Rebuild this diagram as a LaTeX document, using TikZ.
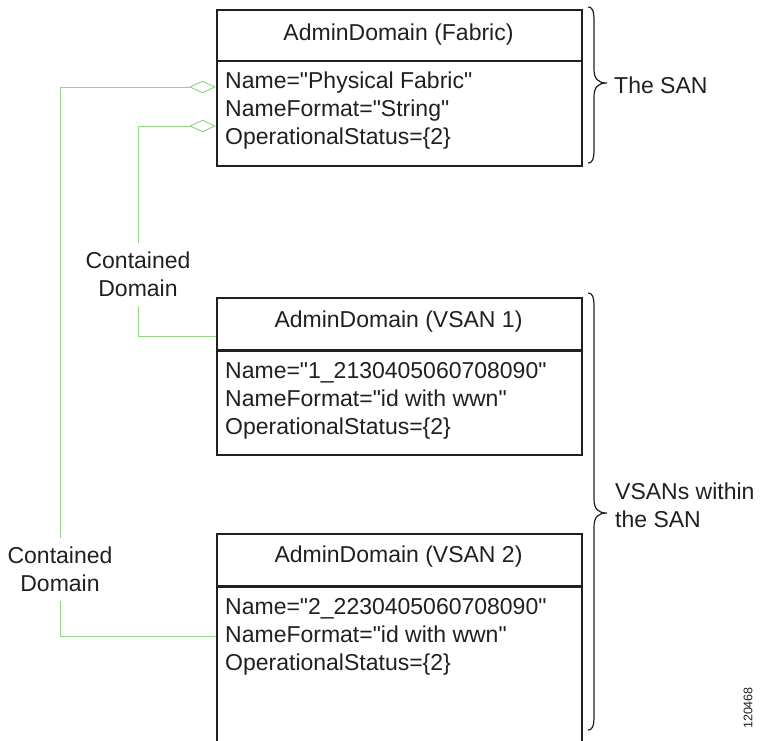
\documentclass[tikz,border=0pt]{standalone}
\usepackage{fontspec}
\setmainfont{Liberation Sans}[Ligatures=TeXOff]
\usetikzlibrary{arrows.meta}
\definecolor{assocgreen}{RGB}{150,212,140}
\definecolor{ink}{RGB}{35,31,32}
% straight double quote
\newcommand{\sq}{\symbol{34}}
\begin{document}
\begin{tikzpicture}[x=1pt,y=-1pt,
  every node/.style={text=ink, font=\fontsize{23}{28}\selectfont},
  classbox/.style={draw=ink, line width=1.6pt, minimum width=365pt, inner sep=0pt, anchor=north west},
  divider/.style={draw=ink, line width=1.6pt},
  thickdivider/.style={draw=ink, line width=3pt},
  title/.style={anchor=base, inner sep=0pt},
  attr/.style={anchor=base west, inner sep=0pt},
  note/.style={align=center, inner xsep=0pt, inner ysep=9pt, anchor=north},
  assoc/.style={draw=assocgreen, line width=1pt},
  agg/.style={assoc, {Diamond[open, length=27pt, width=12.6pt]}-},
  bracestroke/.style={draw=ink, line width=1.2pt}
]
\useasboundingbox (0,0) rectangle (763,740);
\clip (0,0) rectangle (763,740);

% class boxes
\node[classbox, minimum height=156pt] (fab) at (216,9) {};
\node[classbox, minimum height=157pt] (vs1) at (216,297) {};
\node[classbox, minimum height=240pt] (vs2) at (216,533) {};

% compartment dividers
\draw[divider] (216,61) -- (581,61);
\draw[thickdivider] (216,350) -- (581,350);
\draw[thickdivider] (216,586) -- (581,586);

% class names
\node[title] (fabT) at (398.5,40) {AdminDomain (Fabric)};
\node[title] (vs1T) at (398.5,327) {AdminDomain (VSAN 1)};
\node[title] (vs2T) at (398.5,562) {AdminDomain (VSAN 2)};

% attributes
\node[attr] (fab1) at (225,88) {Name=\sq Physical Fabric\sq};
\node[attr] (fab2) at (225,116) {NameFormat=\sq String\sq};
\node[attr] (fab3) at (225,144) {OperationalStatus=\{2\}};

\node[attr] (vs11) at (225,378) {Name=\sq 1\_2130405060708090\sq};
\node[attr] (vs12) at (225,406) {NameFormat=\sq id with wwn\sq};
\node[attr] (vs13) at (225,434) {OperationalStatus=\{2\}};

\node[attr] (vs21) at (225,614) {Name=\sq 2\_2230405060708090\sq};
\node[attr] (vs22) at (225,642) {NameFormat=\sq id with wwn\sq};
\node[attr] (vs23) at (225,670) {OperationalStatus=\{2\}};

% association labels
\node[note] (c1) at (138,243) {Contained\\Domain};
\node[note] (c2) at (60,538) {Contained\\Domain};

% association end points on the boxes
\coordinate (fabA) at (216,87);
\coordinate (fabB) at (216,126);
\coordinate (vs1A) at (216,336);
\coordinate (vs2A) at (216,636);

% aggregation connectors
\draw[agg] (fabB) -| (c1.north);
\draw[assoc] (c1.south) |- (vs1A);
\draw[agg] (fabA) -| (c2.north);
\draw[assoc] (c2.south) |- (vs2A);

% braces
\draw[bracestroke] (588,7) .. controls (592,7) and (594,10) .. (594,21)
  -- (594,69) .. controls (594,79) and (598,83) .. (607,83)
  .. controls (598,83) and (594,87) .. (594,97)
  -- (594,149) .. controls (594,160) and (592,163) .. (588,163);
\draw[bracestroke] (588,293) .. controls (592,293) and (594,296) .. (594,307)
  -- (594,499) .. controls (594,509) and (598,513) .. (607,513)
  .. controls (598,513) and (594,517) .. (594,527)
  -- (594,716) .. controls (594,727) and (592,730) .. (588,730);

\node[anchor=base west, inner sep=0pt] (san) at (614,93) {The SAN};
\node[anchor=west, align=left, inner sep=0pt] (vsans) at (615,505.6) {VSANs within\\the SAN};

% figure number
\node[rotate=90, font=\fontsize{12.5}{14}\selectfont, inner sep=0pt] (figid) at (748,708) {120468};
\end{tikzpicture}
\end{document}
